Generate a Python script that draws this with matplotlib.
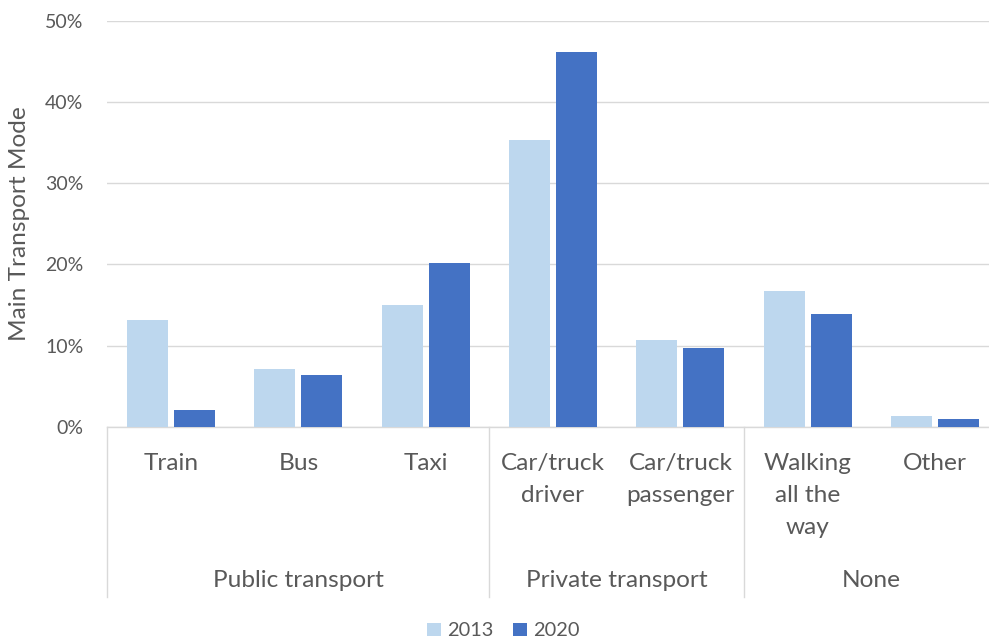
import matplotlib
matplotlib.use("Agg")
import matplotlib.pyplot as plt
from matplotlib.patches import Patch
import numpy as np

# Main transport mode shares (%) by category and survey year
categories = ["Train", "Bus", "Taxi", "Car/truck\ndriver", "Car/truck\npassenger",
              "Walking\nall the\nway", "Other"]
groups = ["Public transport", "Private transport", "None"]
group_sizes = [3, 2, 2]
share_2013 = [13.2, 7.1, 15.0, 35.3, 10.7, 16.7, 1.3]
share_2020 = [2.1, 6.4, 20.2, 46.2, 9.7, 13.9, 1.0]
series_labels = ["2013", "2020"]
y_ticks = [0, 10, 20, 30, 40, 50]

plt.rcParams['font.family'] = ['Lato', 'DejaVu Sans']

W, H, DPI = 989, 641, 100
TEXT = "#595959"
GRID = "#D9D9D9"
C13 = "#BDD7EE"
C20 = "#4472C4"

fig = plt.figure(figsize=(W / DPI, H / DPI), dpi=DPI)

# plot area in pixels
left, right, top, bottom = 107.4, 998.7, 21.0, 426.7
ax = fig.add_axes([left / W, 1 - bottom / H, (right - left) / W, (bottom - top) / H])


def ay(py):
    """pixel row -> axes fraction"""
    return (bottom - py) / (bottom - top)


x = np.arange(len(categories))
bw = 0.322
off = 0.1845
ax.bar(x - off, share_2013, width=bw, color=C13, zorder=3)
ax.bar(x + off, share_2020, width=bw, color=C20, zorder=3)

ax.set_xlim(-0.5, len(categories) - 0.5)
ax.set_ylim(0, 50)
ax.set_yticks(y_ticks)
ax.set_yticklabels([f"{v}%" for v in y_ticks])
ax.tick_params(axis='y', length=0, pad=17.3, labelsize=14, labelcolor=TEXT)
ax.set_xticks([])
ax.yaxis.grid(True, color=GRID, linewidth=1.0, zorder=0)
ax.set_axisbelow(True)
for s in ["top", "right", "left"]:
    ax.spines[s].set_visible(False)
ax.spines["bottom"].set_color(GRID)
ax.spines["bottom"].set_linewidth(1.0)

tr = ax.get_xaxis_transform()

# category labels, one text per line so the baselines sit on a fixed pitch
line_pitch = 32.0
for xi, lab in zip(x, categories):
    for i, line in enumerate(lab.split("\n")):
        ax.text(xi, ay(470 + i * line_pitch), line, transform=tr, ha='center',
                va='baseline', fontsize=17.6, color=TEXT)

# group separators and group labels
bounds = np.concatenate([[0], np.cumsum(group_sizes)]) - 0.5
for b in bounds:
    ax.plot([b, b], [0, ay(597)], transform=tr, color=GRID, linewidth=1.0,
            clip_on=False, zorder=1)
for g, a, b in zip(groups, bounds[:-1], bounds[1:]):
    ax.text((a + b) / 2, ay(586.7), g, transform=tr, ha='center', va='baseline',
            fontsize=17.6, color=TEXT)

# axis title
fig.text(20 / W, 1 - 224 / H, "Main Transport Mode", rotation=90, ha='center',
         va='center', fontsize=17.6, color=TEXT)

# legend
handles = [Patch(facecolor=C13, label=series_labels[0]),
           Patch(facecolor=C20, label=series_labels[1])]
fig.legend(handles=handles, loc='center', bbox_to_anchor=(503.5 / W, 1 - 631 / H),
           ncol=2, frameon=False, fontsize=14.4, handlelength=0.66, handleheight=0.66,
           handletextpad=0.32, columnspacing=1.0, labelcolor=TEXT,
           borderpad=0, borderaxespad=0)

fig.savefig("out.png", dpi=DPI)
